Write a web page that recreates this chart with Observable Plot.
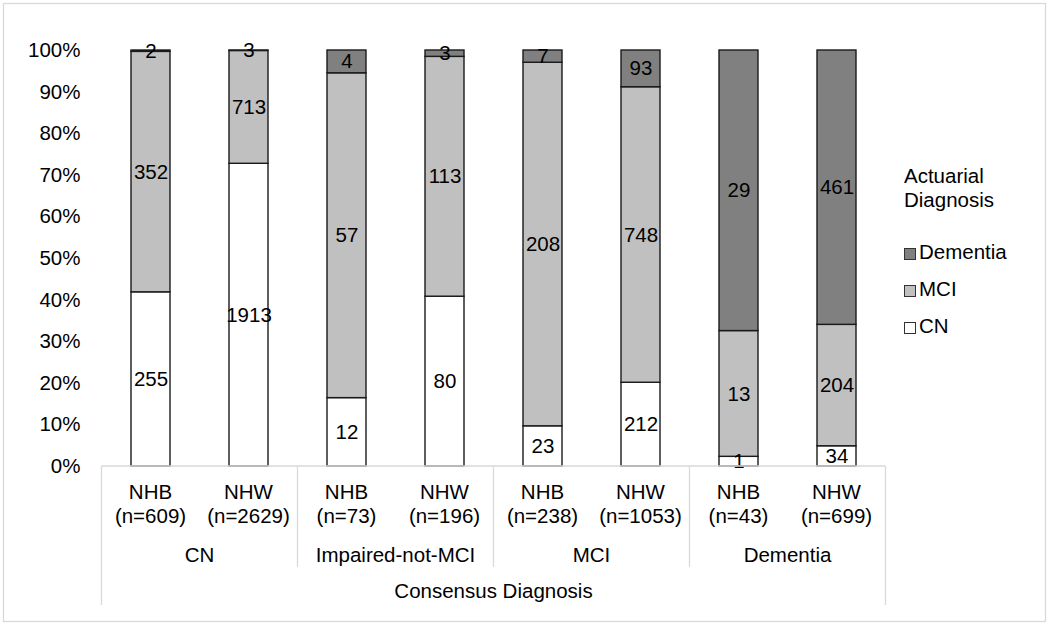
<!DOCTYPE html>
<html>
<head>
<meta charset="utf-8">
<script src="https://cdn.jsdelivr.net/npm/d3@7"></script>
<script src="https://cdn.jsdelivr.net/npm/@observablehq/plot@0.6"></script>
<style>
  html, body { margin: 0; padding: 0; background: #fff; }
  #chart { width: 1050px; height: 626px; }
</style>
</head>
<body>
<div id="chart"></div>
<script>
// ---- data ----
const consensusGroups = ["CN", "Impaired-not-MCI", "MCI", "Dementia"];
const races = ["NHB", "NHW"];
const actuarialCategories = ["CN", "MCI", "Dementia"];
const legendOrder = ["Dementia", "MCI", "CN"];
const cnCounts       = [255, 1913, 12, 80, 23, 212, 1, 34];
const mciCounts      = [352, 713, 57, 113, 208, 748, 13, 204];
const dementiaCounts = [2, 3, 4, 3, 7, 93, 29, 461];
const totals         = [609, 2629, 73, 196, 238, 1053, 43, 699];
const fillColors     = ["#ffffff", "#c0c0c0", "#808080"];
const yTickLabels    = ["0%","10%","20%","30%","40%","50%","60%","70%","80%","90%","100%"];
const legendTitle    = ["Actuarial", "Diagnosis"];
const xTitle         = "Consensus Diagnosis";

// ---- build table ----
const keys = [];
const bars = [];
consensusGroups.forEach((g, gi) => races.forEach((r, ri) => {
  const i = gi * 2 + ri;
  keys.push(`${g}|${r}`);
  bars.push({key: `${g}|${r}`, group: g, race: r, n: totals[i]});
}));
const rows = [];
bars.forEach((b, i) => {
  const counts = [cnCounts[i], mciCounts[i], dementiaCounts[i]];
  actuarialCategories.forEach((c, ci) => rows.push({key: b.key, dx: c, count: counts[ci]}));
});

const font = "'Liberation Sans', Arial, Helvetica, sans-serif";
const fs = 20.5;

const plot = Plot.plot({
  width: 1050,
  height: 626,
  marginLeft: 100,
  marginRight: 163,
  marginTop: 50,
  marginBottom: 160,
  style: {fontFamily: font, fontSize: fs + "px", color: "#000", background: "#fff"},
  x: {domain: keys, paddingInner: 0.6, paddingOuter: 0.3, axis: null},
  y: {
    domain: [0, 1],
    ticks: 10,
    tickFormat: (d) => yTickLabels[Math.round(d * 10)],
    tickSize: 0,
    tickPadding: 20,
    label: null
  },
  color: {domain: actuarialCategories, range: fillColors},
  marks: [
    Plot.barY(rows, Plot.stackY({
      offset: "normalize", order: actuarialCategories,
      x: "key", y: "count", fill: "dx",
      stroke: "#1a1a1a", strokeWidth: 1.4
    })),
    Plot.text(rows, Plot.stackY({
      offset: "normalize", order: actuarialCategories,
      x: "key", y: "count", z: "dx", text: (d) => String(d.count),
      fill: "#000", fontSize: fs
    }))
  ]
});

document.getElementById("chart").appendChild(plot);

// ---- category table below the plot, legend, frame ----
const svg = d3.select(plot);
const xs = plot.scale("x");
const ys = plot.scale("y");
const color = plot.scale("color");
const half = (xs.step - xs.bandwidth) / 2;
const left = (i) => xs.apply(keys[i]) - half;
const center = (i) => xs.apply(keys[i]) + xs.bandwidth / 2;
const y0 = ys.apply(0);
const xEnd = left(keys.length - 1) + xs.step;
const lineColor = "#d9d9d9";

// outer frame
svg.append("rect")
  .attr("x", 3.5).attr("y", 3.5).attr("width", 1042).attr("height", 618)
  .attr("fill", "none").attr("stroke", lineColor).attr("stroke-width", 1.3);

const t = svg.append("g").attr("font-family", font).attr("font-size", fs).attr("fill", "#000")
  .attr("text-anchor", "middle");
t.append("line").attr("x1", left(0)).attr("x2", xEnd).attr("y1", y0).attr("y2", y0)
  .attr("stroke", lineColor).attr("stroke-width", 1.3);
// group separators
for (let g = 0; g <= consensusGroups.length; g++) {
  const xv = g < consensusGroups.length ? left(g * 2) : xEnd;
  const outer = g === 0 || g === consensusGroups.length;
  t.append("line").attr("x1", xv).attr("x2", xv).attr("y1", y0)
    .attr("y2", outer ? y0 + 139 : y0 + 101)
    .attr("stroke", lineColor).attr("stroke-width", 1.3);
}
bars.forEach((b, i) => {
  t.append("text").attr("x", center(i)).attr("y", y0 + 33).text(b.race);
  t.append("text").attr("x", center(i)).attr("y", y0 + 57).attr("word-spacing", 2).text(`(n=${b.n})`);
});
consensusGroups.forEach((g, gi) => {
  const cx = left(gi * 2) + xs.step;
  t.append("text").attr("x", cx).attr("y", y0 + 96).text(g);
});
t.append("text").attr("x", (left(0) + xEnd) / 2).attr("y", y0 + 132).text(xTitle);

// legend
const lg = svg.append("g").attr("font-family", font).attr("font-size", fs).attr("fill", "#000")
  .attr("text-anchor", "start");
legendTitle.forEach((s, i) => lg.append("text").attr("x", 904).attr("y", 183 + i * 24).text(s));
legendOrder.forEach((c, i) => {
  const yb = 259 + i * 37;
  lg.append("rect").attr("x", 904.5).attr("y", yb - 10.5).attr("width", 11).attr("height", 11)
    .attr("fill", color.apply(c)).attr("stroke", "#333").attr("stroke-width", 1);
  lg.append("text").attr("x", 919).attr("y", yb).text(c);
});
</script>
</body>
</html>
